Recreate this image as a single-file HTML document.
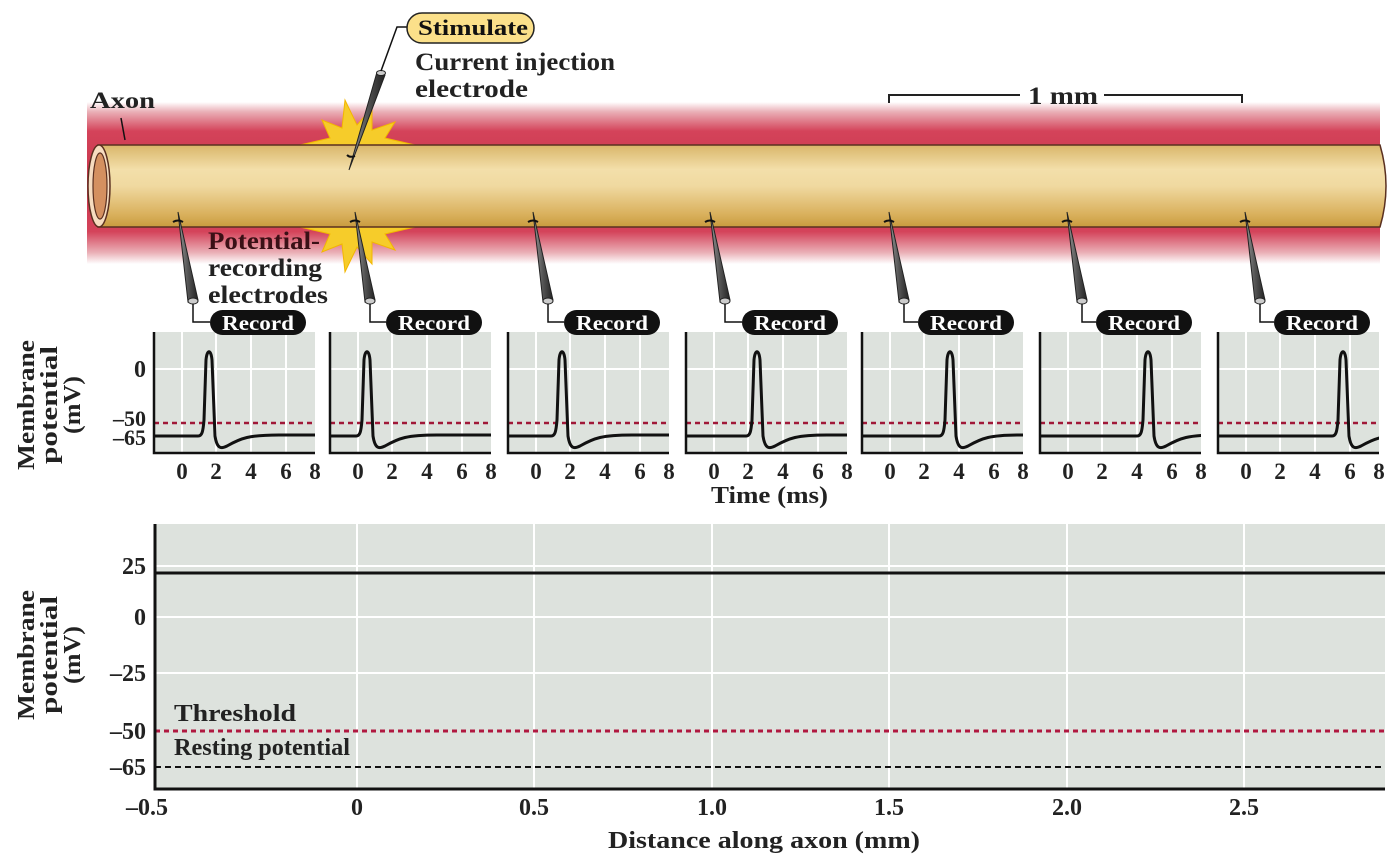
<!DOCTYPE html>
<html><head><meta charset="utf-8"><style>
html,body{margin:0;padding:0;background:#fff;}
svg{display:block;font-family:"Liberation Serif",serif;font-weight:bold;}
</style></head><body>
<svg id="s" width="1400" height="863" viewBox="0 0 1400 863" xmlns="http://www.w3.org/2000/svg">
<defs>
<linearGradient id="red" x1="0" y1="0" x2="0" y2="1">
<stop offset="0" stop-color="#fff"/><stop offset="0.06" stop-color="#eab0b7"/><stop offset="0.18" stop-color="#d4435a"/><stop offset="0.5" stop-color="#c8354b"/><stop offset="0.8" stop-color="#d4435a"/><stop offset="0.93" stop-color="#eab0b7"/><stop offset="1" stop-color="#fff"/>
</linearGradient>
<linearGradient id="tan" x1="0" y1="0" x2="0" y2="1">
<stop offset="0" stop-color="#d9b66a"/><stop offset="0.3" stop-color="#f3dfaa"/><stop offset="0.5" stop-color="#f0d9a0"/><stop offset="0.85" stop-color="#d9b05c"/><stop offset="1" stop-color="#c99b3e"/>
</linearGradient>
<linearGradient id="el" x1="0" y1="0" x2="1" y2="0">
<stop offset="0" stop-color="#999"/><stop offset="0.5" stop-color="#555"/><stop offset="1" stop-color="#222"/>
</linearGradient>
</defs>
<rect x="87" y="102" width="1293" height="162" fill="url(#red)"/>
<polygon points="300,145 330,138 322,120 342,128 345,100 357,125 372,108 372,130 395,122 385,138 415,145" fill="#f6cc2a" stroke="#f2b600" stroke-width="1"/>
<polygon points="300,227 330,234 322,252 342,244 345,272 357,247 372,264 372,242 395,250 385,234 415,227" fill="#f6cc2a" stroke="#f2b600" stroke-width="1"/>
<path d="M98,145 L1380,145 Q1392,186 1380,227 L98,227 Z" fill="url(#tan)" stroke="#5a3020" stroke-width="1.5"/>
<ellipse cx="99" cy="186" rx="11" ry="41" fill="#f6dcc0" stroke="#5a3020" stroke-width="1.5"/>
<ellipse cx="100" cy="186" rx="7" ry="33" fill="#d49060" stroke="#5a3020" stroke-width="1.2"/>
<line x1="121" y1="118" x2="125" y2="140" stroke="#111" stroke-width="1.5"/>
<text x="90" y="108" font-size="23" fill="#222" textLength="65" lengthAdjust="spacingAndGlyphs">Axon</text>
<polygon points="349,170 377,72 385,75" fill="url(#el)" stroke="#222" stroke-width="1"/>
<ellipse cx="381" cy="73" rx="4.5" ry="2.5" fill="#ccc" stroke="#222"/>
<path d="M347,155 q3,3 8,1" stroke="#111" stroke-width="2" fill="none"/>
<polyline points="381,71 397,27 408,27" fill="none" stroke="#111" stroke-width="1.5"/>
<rect x="407" y="13" width="127" height="30" rx="15" fill="#fbe08a" stroke="#222" stroke-width="1.5"/>
<text x="418" y="35" font-size="22" fill="#111" textLength="110" lengthAdjust="spacingAndGlyphs">Stimulate</text>
<text x="415" y="70" font-size="25" fill="#222" textLength="200" lengthAdjust="spacingAndGlyphs">Current injection</text>
<text x="415" y="97" font-size="25" fill="#222" textLength="113" lengthAdjust="spacingAndGlyphs">electrode</text>
<text x="208" y="249" font-size="25" fill="#3a1016" textLength="112" lengthAdjust="spacingAndGlyphs">Potential-</text>
<text x="208" y="276" font-size="25" fill="#222" textLength="114" lengthAdjust="spacingAndGlyphs">recording</text>
<text x="208" y="303" font-size="25" fill="#222" textLength="120" lengthAdjust="spacingAndGlyphs">electrodes</text>
<polyline points="889,103 889,95 1020,95" fill="none" stroke="#222" stroke-width="2"/>
<polyline points="1104,95 1242,95 1242,103" fill="none" stroke="#222" stroke-width="2"/>
<text x="1028" y="104" font-size="25" fill="#222" textLength="70" lengthAdjust="spacingAndGlyphs">1 mm</text>
<g id="small"></g>
<g font-size="24" fill="#222">
<text transform="translate(34,405) rotate(-90)" text-anchor="middle" textLength="130" lengthAdjust="spacingAndGlyphs">Membrane</text>
<text transform="translate(57,405) rotate(-90)" text-anchor="middle" textLength="118" lengthAdjust="spacingAndGlyphs">potential</text>
<text transform="translate(80,405) rotate(-90)" text-anchor="middle" textLength="58" lengthAdjust="spacingAndGlyphs">(mV)</text>
<text x="146" y="377" text-anchor="end">0</text>
<text x="146" y="426" text-anchor="end" font-size="22">–50</text>
<text x="146" y="445" text-anchor="end" font-size="22">–65</text>
<text x="711" y="503" textLength="117" lengthAdjust="spacingAndGlyphs">Time (ms)</text>
</g>
<rect x="155" y="524" width="1230" height="265" fill="#dde2dd"/>
<g stroke="#fff" stroke-width="2">
<line x1="357" y1="524" x2="357" y2="789"/><line x1="534" y1="524" x2="534" y2="789"/>
<line x1="712" y1="524" x2="712" y2="789"/><line x1="889" y1="524" x2="889" y2="789"/>
<line x1="1067" y1="524" x2="1067" y2="789"/><line x1="1244" y1="524" x2="1244" y2="789"/>
<line x1="155" y1="566" x2="1385" y2="566"/><line x1="155" y1="617" x2="1385" y2="617"/>
<line x1="155" y1="673" x2="1385" y2="673"/>
</g>
<line x1="155" y1="573" x2="1385" y2="573" stroke="#111" stroke-width="3"/>
<line x1="155" y1="731" x2="1385" y2="731" stroke="#b01840" stroke-width="3" stroke-dasharray="5,4"/>
<line x1="155" y1="767" x2="1385" y2="767" stroke="#111" stroke-width="2" stroke-dasharray="6,4"/>
<polyline points="155,524 155,789 1385,789" fill="none" stroke="#111" stroke-width="3"/>
<g font-size="24" fill="#222">
<text x="174" y="721" textLength="122" lengthAdjust="spacingAndGlyphs">Threshold</text>
<text x="174" y="755" textLength="176" lengthAdjust="spacingAndGlyphs">Resting potential</text>
<text x="146" y="574" text-anchor="end">25</text>
<text x="146" y="625" text-anchor="end">0</text>
<text x="146" y="681" text-anchor="end">–25</text>
<text x="146" y="739" text-anchor="end">–50</text>
<text x="146" y="775" text-anchor="end">–65</text>
<text x="147" y="815" text-anchor="middle">–0.5</text>
<text x="357" y="815" text-anchor="middle">0</text>
<text x="534" y="815" text-anchor="middle">0.5</text>
<text x="712" y="815" text-anchor="middle">1.0</text>
<text x="889" y="815" text-anchor="middle">1.5</text>
<text x="1067" y="815" text-anchor="middle">2.0</text>
<text x="1244" y="815" text-anchor="middle">2.5</text>
<text x="608" y="848" textLength="312" lengthAdjust="spacingAndGlyphs">Distance along axon (mm)</text>
<text transform="translate(34,655) rotate(-90)" text-anchor="middle" textLength="130" lengthAdjust="spacingAndGlyphs">Membrane</text>
<text transform="translate(57,655) rotate(-90)" text-anchor="middle" textLength="118" lengthAdjust="spacingAndGlyphs">potential</text>
<text transform="translate(80,655) rotate(-90)" text-anchor="middle" textLength="58" lengthAdjust="spacingAndGlyphs">(mV)</text>
</g>
</svg>
<script>
(function(){
var g=document.getElementById('small');
var lefts=[154,330,508,686,862,1040,1218],peaks=[55,37,54,71,88,108,125];
var ex=[178,355,533,710,889,1067,1245];
var h='';
for(var i=0;i<7;i++){
 var L=lefts[i],W=161,p=L+peaks[i];
 h+='<rect x="'+L+'" y="332" width="'+W+'" height="121" fill="#dde2dd"/>';
 [28,62,97,132].forEach(function(d){h+='<line x1="'+(L+d)+'" y1="332" x2="'+(L+d)+'" y2="453" stroke="#fff" stroke-width="2"/>';});
 h+='<line x1="'+L+'" y1="369" x2="'+(L+W)+'" y2="369" stroke="#fff" stroke-width="2"/>';
 h+='<line x1="'+L+'" y1="423" x2="'+(L+W)+'" y2="423" stroke="#a01838" stroke-width="2.5" stroke-dasharray="5,4"/>';
 h+='<clipPath id="c'+i+'"><rect x="'+L+'" y="330" width="'+W+'" height="125"/></clipPath>';
 h+='<path clip-path="url(#c'+i+')" d="M'+L+',436 L'+(p-11)+',436 C'+(p-7)+',436 '+(p-6)+',432 '+(p-5)+',420 L'+(p-3)+',360 C'+(p-2)+',349 '+(p+2)+',349 '+(p+3)+',360 L'+(p+6)+',436 C'+(p+8)+',449 '+(p+12)+',449 '+(p+18)+',446 C'+(p+32)+',438 '+(p+40)+',435 '+(p+70)+',435 L'+(L+W+40)+',435" fill="none" stroke="#111" stroke-width="3"/>';
 h+='<polyline points="'+L+',332 '+L+',453 '+(L+W)+',453" fill="none" stroke="#111" stroke-width="2.5"/>';
 var tl=[[28,'0'],[62,'2'],[97,'4'],[132,'6'],[161,'8']];
 tl.forEach(function(t){h+='<text x="'+(L+t[0])+'" y="479" font-size="23" text-anchor="middle" fill="#222">'+t[1]+'</text>';});
 var x=ex[i];
 h+='<polygon points="'+x+',212 '+(x+10)+',302 '+(x+20)+',300" fill="url(#el)" stroke="#222" stroke-width="1"/>';
 h+='<ellipse cx="'+(x+15)+'" cy="301" rx="5" ry="3" fill="#ccc" stroke="#222"/>';
 h+='<path d="M'+(x-5)+',222 q5,-3 10,0" stroke="#111" stroke-width="2" fill="none"/>';
 var lx=L+56;
 h+='<polyline points="'+(x+15)+',304 '+(x+15)+',322 '+lx+',322" fill="none" stroke="#111" stroke-width="1.5"/>';
 h+='<rect x="'+lx+'" y="310" width="96" height="25" rx="12.5" fill="#111"/>';
 h+='<text x="'+(lx+12)+'" y="330" font-size="21" fill="#fff" textLength="72" lengthAdjust="spacingAndGlyphs">Record</text>';
}
g.innerHTML=h;
})();
</script>
</body></html>
